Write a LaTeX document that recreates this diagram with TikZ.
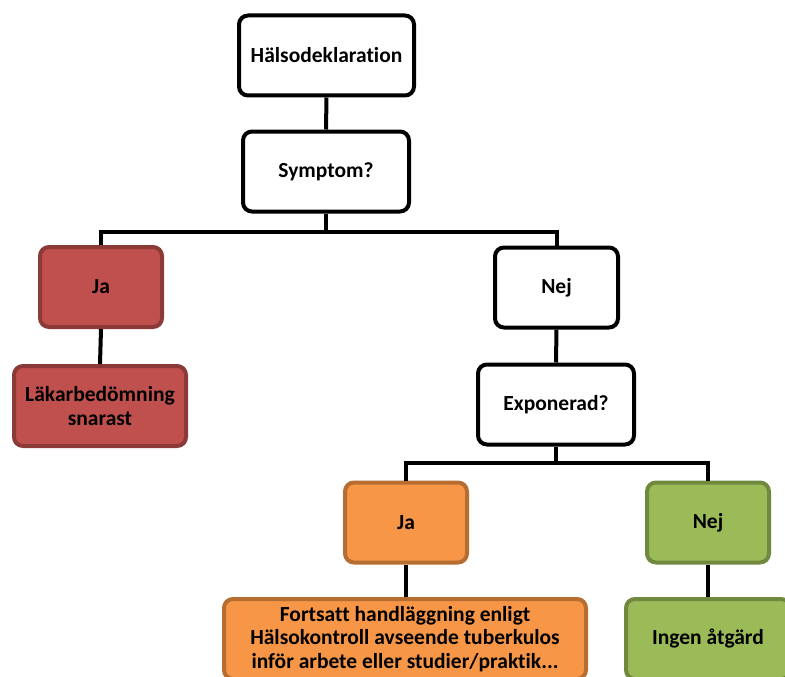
\documentclass[tikz,border=0pt]{standalone}
\usepackage{fontspec}
\setmainfont{Carlito}[Ligatures={NoCommon}]
\begin{document}
\begin{tikzpicture}[x=1pt,y=-1pt,
  box/.style={draw=black,fill=white,line width=4pt,rounded corners=9pt,
    align=center,font=\bfseries\fontsize{21.5}{23.5}\selectfont,inner sep=2pt,
    minimum height=80pt},
  redbox/.style={box,draw={rgb,255:red,140;green,58;blue,56},fill={rgb,255:red,192;green,80;blue,77}},
  orangebox/.style={box,draw={rgb,255:red,182;green,109;blue,49},fill={rgb,255:red,247;green,150;blue,70}},
  greenbox/.style={box,draw={rgb,255:red,113;green,137;blue,63},fill={rgb,255:red,155;green,187;blue,89}},
  conn/.style={draw=black,line width=4pt}]
\useasboundingbox (0,0) rectangle (785,677);
\clip (0,0) rectangle (785,677);
\fill[white] (0,0) rectangle (785,677);

\node[box,minimum width=175pt] (H) at (326.5,55.5) {Hälsodeklaration};
\node[box,minimum width=166pt] (S) at (326,171.5) {Symptom?};
\node[redbox,minimum width=122pt] (J1) at (101,287) {Ja};
\node[redbox,minimum width=172pt] (L) at (100,406) {Läkarbedömning\\snarast};
\node[box,minimum width=123pt] (N1) at (556.5,287.5) {Nej};
\node[box,minimum width=156pt] (E) at (556,404.5) {Exponerad?};
\node[orangebox,minimum width=122pt] (J2) at (406,522.5) {Ja};
\node[greenbox,minimum width=122pt] (N2) at (708,522.5) {Nej};
\node[orangebox,minimum width=362pt] (F) at (405,639) {Fortsatt handläggning enligt\\Hälsokontroll avseende tuberkulos\\inför arbete eller studier/praktik...};
\node[greenbox,minimum width=164pt] (I) at (708,639) {Ingen åtgärd};

\coordinate (b1) at (326,232);
\coordinate (b2) at (556,463);

\draw[conn] (H.south) -- (S.north);
\draw[conn] (S.south) -- (b1);
\draw[conn] (J1.north) |- (b1) -| (N1.north);
\draw[conn] (J1.south) -- (L.north);
\draw[conn] (N1.south) -- (E.north);
\draw[conn] (E.south) -- (b2);
\draw[conn] (J2.north) |- (b2) -| (N2.north);
\draw[conn] (J2.south) -- (J2.south |- F.north);
\draw[conn] (N2.south) -- (I.north);
\end{tikzpicture}
\end{document}
